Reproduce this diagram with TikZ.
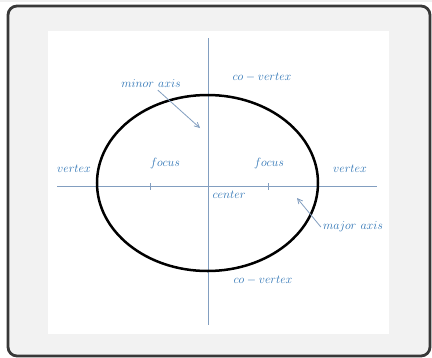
\documentclass[tikz,border=0pt]{standalone}
\usepackage{xcolor}
\usetikzlibrary{arrows.meta, positioning}
\definecolor{lblblue}{RGB}{46,116,181}
\definecolor{axisblue}{RGB}{130,158,192}
\definecolor{framegray}{RGB}{242,242,242}

\begin{document}
\begin{tikzpicture}[
    x=1pt, y=-1pt,
    lbl/.style={font=\fontsize{13}{15}\selectfont, text=lblblue, inner sep=2pt},
    axis/.style={draw=axisblue, line width=0.9pt},
    curve/.style={draw=black, line width=2.5pt},
    pointer/.style={-{Straight Barb[length=5pt, width=5pt]}, draw=axisblue, line width=0.8pt}
]
\useasboundingbox (0,0) rectangle (432,357);

% Frame and white card
\fill[gray!12] (0,0) rectangle (432,2);
\draw[line width=2.8pt, draw=black!78, fill=framegray, rounded corners=9pt] (8,6) rectangle (430,356);
\fill[white] (48,31) rectangle (389,334);

% Axes
\coordinate (ctr) at (208,186);
\coordinate (vtop) at (208,38);
\coordinate (vbot) at (208,325);
\coordinate (hleft) at (57,186);
\coordinate (hright) at (377,186);
\draw[axis] (vtop) -- (vbot);
\draw[axis] (hleft) -- (hright);

% Ellipse
\draw[curve] (207.5,183) ellipse [x radius=110.5, y radius=88];

% Foci ticks
\coordinate (f1) at (150,186);
\coordinate (f2) at (268,186);
\draw[axis] ([yshift=-3.5pt]f1) -- ([yshift=3.5pt]f1);
\draw[axis] ([yshift=-3.5pt]f2) -- ([yshift=3.5pt]f2);

% Labels
\node[lbl] (vtxL) at (74,169) {$vertex$};
\node[lbl] (vtxR) at (350,169) {$vertex$};
\node[lbl] (focL) at (165,163) {$focus$};
\node[lbl] (focR) at (269,163) {$focus$};
\node[lbl] (ctrlbl) at (229,195) {$center$};
\node[lbl] (covT) at (262,77) {$co - vertex$};
\node[lbl] (covB) at (263,280) {$co - vertex$};
\node[lbl] (minorlbl) at (151,84) {$minor\ axis$};
\node[lbl] (majorlbl) at (353,227) {$major\ axis$};

% Pointers to the axes
\coordinate (minortip) at (200,128);
\coordinate (majortip) at (297,198);
\draw[pointer] (minorlbl) -- (minortip);
\draw[pointer] (majorlbl.west) -- (majortip);

\end{tikzpicture}
\end{document}
